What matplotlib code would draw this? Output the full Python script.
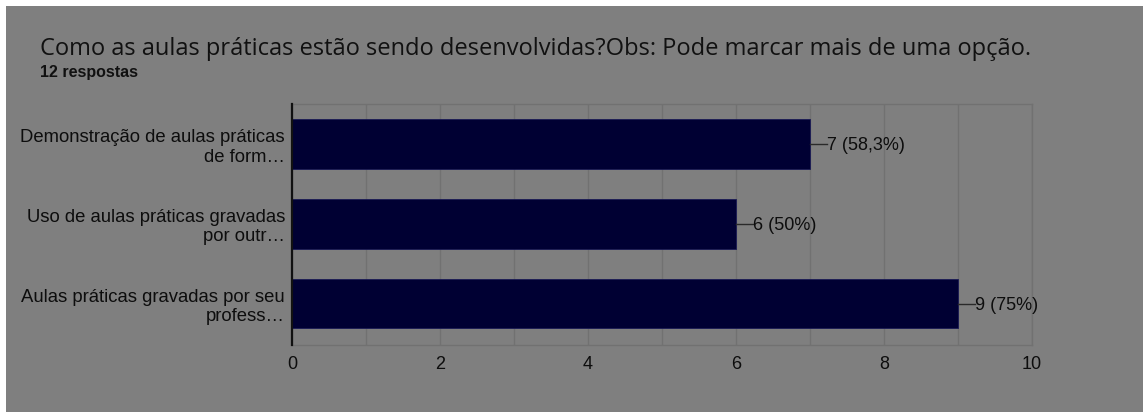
import matplotlib.pyplot as plt
from matplotlib.patches import Rectangle

## Chart data
categories = ["Demonstração de aulas práticas\nde form…",
              "Uso de aulas práticas gravadas\npor outr…",
              "Aulas práticas gravadas por seu\nprofess…"]
counts = [7, 6, 9]
labels = ["7 (58,3%)", "6 (50%)", "9 (75%)"]
xticks = [0, 2, 4, 6, 8, 10]

title = "Como as aulas práticas estão sendo desenvolvidas?Obs: Pode marcar mais de uma opção."
subtitle = "12 respostas"

bg = "#7f7f7f"
bar_color = "#000033"
grid_color = "#717171"

fig = plt.figure(figsize=(11.43, 4.12), dpi=100, facecolor="white")
## gray panel, leaving a thin white strip top and left
fig.patches.append(Rectangle((6 / 1143, 0), 1, 1 - 6 / 412, transform=fig.transFigure,
                             facecolor=bg, edgecolor="none", zorder=-5))

ax = fig.add_axes([292 / 1143, 1 - 345 / 412, 740 / 1143, 241 / 412])
ax.set_facecolor(bg)

ypos = list(range(len(categories)))
ax.barh(ypos, counts, height=0.625, color=bar_color, edgecolor="#1a1a55", linewidth=0.6, zorder=3)

for y, c, lab in zip(ypos, counts, labels):
    ax.plot([c, c + 0.23], [y, y], color="#2a2a2a", linewidth=1, zorder=3)
    ax.text(c + 0.23, y, lab, va="center_baseline", ha="left", fontsize=13,
            family="Liberation Sans", color="#0d0d0d")

ax.set_xlim(0, 10)
ax.set_ylim(2.52, -0.5)
ax.set_xticks(xticks)
ax.set_xticks(range(11), minor=True)
ax.set_yticks(ypos)
ax.set_yticklabels(categories, family="Liberation Sans", fontsize=13.3, color="#0d0d0d",
                   multialignment="right")
for t in ax.get_xticklabels():
    t.set_family("Liberation Sans")
ax.tick_params(axis="x", labelsize=13, labelcolor="#0d0d0d", length=0, pad=8)
ax.tick_params(axis="x", which="minor", length=0)
ax.tick_params(axis="y", length=0, pad=5)

ax.grid(axis="x", which="both", color=grid_color, linewidth=1, zorder=0)
for side in ["top", "right", "bottom"]:
    ax.spines[side].set_color(grid_color)
    ax.spines[side].set_linewidth(1)
ax.spines["left"].set_color("#111111")
ax.spines["left"].set_linewidth(1.6)
ax.spines["left"].set_zorder(4)

fig.text(40 / 1143, 1 - 55 / 412, title, fontsize=17, family="Open Sans",
         color="#111111", va="baseline")
fig.text(40 / 1143, 1 - 77 / 412, subtitle, fontsize=11.5, family="Liberation Sans",
         fontweight="bold", color="#111111", va="baseline")

fig.savefig("out.png", dpi=100, facecolor=fig.get_facecolor())
